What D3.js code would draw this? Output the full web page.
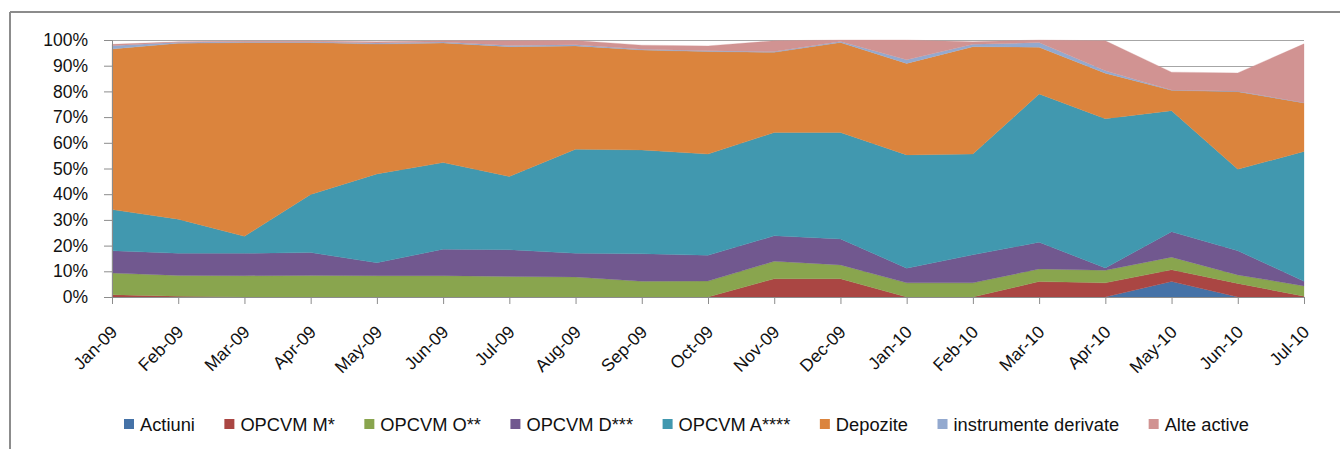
<!DOCTYPE html>
<html>
<head>
<meta charset="utf-8">
<script src="https://cdn.jsdelivr.net/npm/d3@7"></script>
<style>
  html, body { margin: 0; padding: 0; background: #fff; }
  svg { display: block; font-family: "Liberation Sans", Arial, sans-serif; }
</style>
</head>
<body>
<svg id="chart" width="1340" height="449"></svg>
<script>
// ---- data ----
const categories = ["Jan-09","Feb-09","Mar-09","Apr-09","May-09","Jun-09","Jul-09","Aug-09","Sep-09","Oct-09","Nov-09","Dec-09","Jan-10","Feb-10","Mar-10","Apr-10","May-10","Jun-10","Jul-10"];
const seriesNames = ["Actiuni","OPCVM M*","OPCVM O**","OPCVM D***","OPCVM A****","Depozite","instrumente derivate","Alte active"];
const actiuni   = [0,0,0,0,0,0,0,0,0,0,0,0,0,0,0,0,6.0,0,0];
const opcvmM    = [0.9,0.3,0,0,0,0,0,0,0,0,7.1,7.1,0,0,6.0,5.5,4.6,5.3,0.3];
const opcvmO    = [8.4,8.1,8.3,8.4,8.3,8.3,8.0,7.8,6.1,6.2,6.8,5.4,5.5,5.5,4.9,4.9,4.9,3.3,4.0];
const opcvmD    = [8.7,8.6,8.7,8.9,5.0,10.3,10.4,9.2,10.7,10.0,9.9,10.1,5.7,10.9,10.4,0.9,9.9,9.4,1.8];
const opcvmA    = [16.0,13.3,6.6,22.6,34.6,33.7,28.5,40.5,40.4,39.4,40.2,41.4,44.1,39.2,57.7,58.1,47.1,31.7,50.5];
const depozite  = [62.5,68.4,75.4,59.1,50.5,46.5,50.5,40.2,38.9,39.9,31.2,35.0,35.6,41.8,18.2,17.7,7.9,30.2,18.9];
const derivate  = [1.3,0.4,0.3,0.3,0.4,0.4,0.5,0.5,0.3,0.3,0.3,0.4,1.4,0.9,1.8,0.9,0.1,0.2,0.1];
const alteActive= [0.5,0.2,0.3,0.3,0.5,0.5,1.8,1.6,1.6,1.9,4.2,0.6,7.7,1.0,1.0,11.7,7.0,7.1,22.9];
const yTicks = [0,10,20,30,40,50,60,70,80,90,100];
const colors = ["#4572A7","#AA4643","#89A54E","#71588F","#4198AF","#DB843D","#93A9CF","#D19392"];

const seriesValues = [actiuni, opcvmM, opcvmO, opcvmD, opcvmA, depozite, derivate, alteActive];
const rows = categories.map((c, i) => {
  const r = { cat: c };
  seriesNames.forEach((s, k) => { r[s] = seriesValues[k][i]; });
  return r;
});

// ---- layout ----
const svg = d3.select("#chart");
const mLeft = 112, mRight = 1304, mTop = 40, mBottom = 297;

const x = d3.scalePoint().domain(categories).range([mLeft, mRight]);
const y = d3.scaleLinear().domain([0, 100]).range([mBottom, mTop]);

// outer frame (top + left)
svg.append("line").attr("x1", 10).attr("x2", 1340).attr("y1", 12).attr("y2", 12)
  .attr("stroke", "#8c8c8c").attr("stroke-width", 2);
svg.append("line").attr("x1", 10).attr("x2", 10).attr("y1", 12).attr("y2", 449)
  .attr("stroke", "#8c8c8c").attr("stroke-width", 2);

// gridlines
svg.append("g").selectAll("line").data(yTicks.filter(d => d > 0)).join("line")
  .attr("x1", mLeft).attr("x2", mRight)
  .attr("y1", d => Math.round(y(d)) + 0.5).attr("y2", d => Math.round(y(d)) + 0.5)
  .attr("stroke", "#a6a6a6").attr("stroke-width", 1);

// stacked areas
const stack = d3.stack().keys(seriesNames);
const stacked = stack(rows);
const area = d3.area()
  .x(d => x(d.data.cat))
  .y0(d => y(d[0]))
  .y1(d => y(d[1]));
svg.append("g").selectAll("path").data(stacked).join("path")
  .attr("d", area)
  .attr("fill", (d, i) => colors[i])
  .attr("stroke", (d, i) => colors[i])
  .attr("stroke-width", 0.3);

// y axis
const yAxis = d3.axisLeft(y).tickValues(yTicks).tickFormat(d => d + "%").tickSize(8).tickPadding(16);
const gy = svg.append("g").attr("transform", `translate(${mLeft},0)`).call(yAxis);
gy.select(".domain").attr("stroke", "#8c8c8c");
gy.selectAll(".tick line").attr("stroke", "#8c8c8c");
gy.selectAll(".tick text").attr("font-size", 17.5).attr("fill", "#111")
  .attr("font-family", "'Liberation Sans', Arial, sans-serif");

// x axis
const xAxis = d3.axisBottom(x).tickSize(7).tickSizeOuter(0);
const gx = svg.append("g").attr("transform", `translate(0,${mBottom})`).call(xAxis);
gx.select(".domain").attr("stroke", "#8c8c8c");
gx.selectAll(".tick line").attr("stroke", "#8c8c8c");
gx.selectAll(".tick text")
  .attr("font-size", 17.5).attr("fill", "#111")
  .attr("font-family", "'Liberation Sans', Arial, sans-serif")
  .attr("text-anchor", "end")
  .attr("y", 0).attr("dy", 0)
  .attr("transform", "translate(6,36) rotate(-45)");

// legend (laid out sequentially)
const legend = svg.append("g").attr("font-size", 18.3).attr("fill", "#111");
const ly = 424;
let lx = 124;
seriesNames.forEach((s, i) => {
  const g = legend.append("g");
  g.append("rect").attr("x", lx).attr("y", ly - 5).attr("width", 10).attr("height", 10).attr("fill", colors[i]);
  const t = g.append("text").attr("x", lx + 16).attr("y", ly + 6.5).text(s);
  lx += 16 + t.node().getComputedTextLength() + 29.5;
});
</script>
</body>
</html>
